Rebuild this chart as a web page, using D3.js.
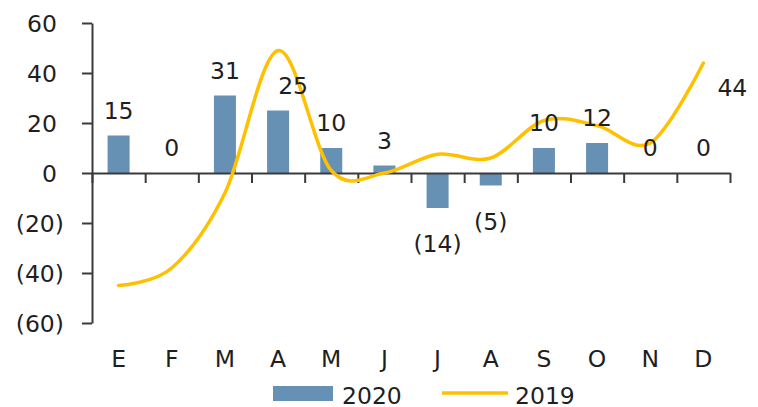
<!DOCTYPE html>
<html>
<head>
<meta charset="utf-8">
<script src="https://cdn.jsdelivr.net/npm/d3@7"></script>
<style>
  body { margin: 0; background: #fff; }
  svg text { font-family: "DejaVu Sans", Verdana, sans-serif; fill: #1f1f1f; }
</style>
</head>
<body>
<svg id="chart" width="758" height="407"></svg>
<script>
// month initials (Spanish)
var months = ['E', 'F', 'M', 'A', 'M', 'J', 'J', 'A', 'S', 'O', 'N', 'D'];
var values2020 = [15, 0, 31, 25, 10, 3, -14, -5, 10, 12, 0, 0];
var values2019 = [-45, -38, -8, 49, 1, 0, 7.5, 6, 21, 19, 12, 44];
var yTicks = [-60, -40, -20, 0, 20, 40, 60];
var seriesNames = ['2020', '2019'];

var barColor = '#6790b5',
    lineColor = '#ffc000',
    axisColor = '#3a3a3a',
    fontSize = 23.5;

var svg = d3.select('#chart');

var plotLeft = 92, plotRight = 730, plotTop = 23, plotBottom = 323;

var idx = d3.range(months.length);

// bands for the bars
var x = d3.scaleBand()
  .domain(idx)
  .range([plotLeft, plotRight])
  .paddingInner(0.586)
  .paddingOuter(0.293);

// band boundaries for the category ticks
var xEdge = d3.scaleLinear()
  .domain([0, months.length])
  .range([plotLeft, plotRight]);

var y = d3.scaleLinear()
  .domain([-60, 60])
  .range([plotBottom, plotTop]);

function fmt(v) {
  return v < 0 ? '(' + Math.abs(v) + ')' : String(v);
}

function cx(i) {
  return x(i) + x.bandwidth() / 2;
}

// bars
svg.append('g')
  .selectAll('rect')
  .data(values2020)
  .enter()
  .append('rect')
  .attr('x', function (d, i) { return x(i); })
  .attr('width', x.bandwidth())
  .attr('y', function (d) { return y(Math.max(0, d)); })
  .attr('height', function (d) { return Math.abs(y(d) - y(0)); })
  .attr('fill', barColor);

// y axis
var yAxis = svg.append('g')
  .attr('transform', 'translate(' + plotLeft + ',0)')
  .call(d3.axisLeft(y).tickValues(yTicks).tickSizeInner(10).tickSizeOuter(0).tickFormat(''));
yAxis.select('.domain').attr('stroke', axisColor).attr('stroke-width', 2);
yAxis.selectAll('.tick line').attr('stroke', axisColor).attr('stroke-width', 2);

svg.append('g')
  .selectAll('text')
  .data(yTicks)
  .enter()
  .append('text')
  .attr('x', function (d) { return d < 0 ? 64 : 57; })
  .attr('y', function (d) { return y(d) + 9; })
  .attr('text-anchor', 'end')
  .style('font-size', fontSize + 'px')
  .text(fmt);

// x axis on zero
var xAxis = svg.append('g')
  .attr('transform', 'translate(0,' + y(0) + ')')
  .call(d3.axisBottom(xEdge).tickValues(d3.range(months.length + 1)).tickSizeInner(10).tickSizeOuter(0).tickFormat(''));
xAxis.select('.domain').attr('stroke', axisColor).attr('stroke-width', 2);
xAxis.selectAll('.tick line').attr('stroke', axisColor).attr('stroke-width', 2);

svg.append('g')
  .selectAll('text')
  .data(months)
  .enter()
  .append('text')
  .attr('x', function (d, i) { return cx(i); })
  .attr('y', 367)
  .attr('text-anchor', 'middle')
  .style('font-size', fontSize + 'px')
  .text(function (d) { return d; });

// 2019 smoothed line
var line = d3.line()
  .x(function (d, i) { return cx(i); })
  .y(function (d) { return y(d); })
  .curve(d3.curveCardinal.tension(0));

svg.append('path')
  .datum(values2019)
  .attr('d', line)
  .attr('fill', 'none')
  .attr('stroke', lineColor)
  .attr('stroke-width', 3.5)
  .attr('stroke-linecap', 'round');

// manual nudges for labels that were moved off the line
var labelNudge = { 3: 15 };

svg.append('g')
  .selectAll('text')
  .data(values2020)
  .enter()
  .append('text')
  .attr('x', function (d, i) { return cx(i) + (labelNudge[i] || 0); })
  .attr('y', function (d) { return d < 0 ? y(d) + 44 : y(d) - 17; })
  .attr('text-anchor', 'middle')
  .style('font-size', fontSize + 'px')
  .text(fmt);

// last point label of 2019
var last = values2019.length - 1;
svg.append('text')
  .attr('x', cx(last) + 14)
  .attr('y', y(values2019[last]) + 33)
  .style('font-size', fontSize + 'px')
  .text(fmt(values2019[last]));

// legend
var legend = svg.append('g');
legend.append('rect')
  .attr('x', 273).attr('y', 386)
  .attr('width', 60).attr('height', 15)
  .attr('fill', barColor);
legend.append('text')
  .attr('x', 342).attr('y', 404)
  .style('font-size', fontSize + 'px')
  .text(seriesNames[0]);
legend.append('line')
  .attr('x1', 442).attr('x2', 508)
  .attr('y1', 393).attr('y2', 393)
  .attr('stroke', lineColor)
  .attr('stroke-width', 3.5);
legend.append('text')
  .attr('x', 515).attr('y', 404)
  .style('font-size', fontSize + 'px')
  .text(seriesNames[1]);
</script>
</body>
</html>
